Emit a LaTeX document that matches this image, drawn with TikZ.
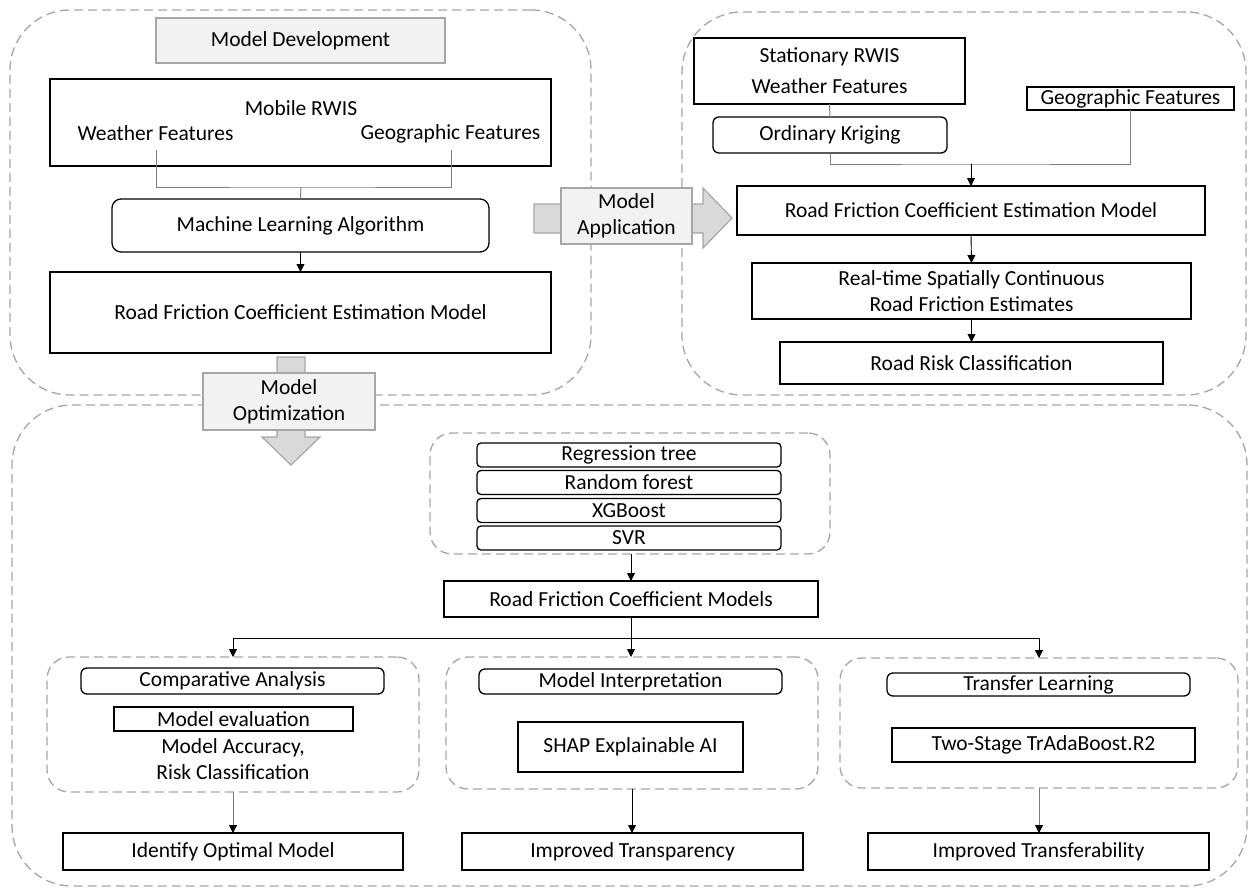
\documentclass[tikz,border=0pt]{standalone}
\usepackage{fontspec}
\setmainfont{Carlito}
\usetikzlibrary{arrows.meta}
\definecolor{dashgray}{HTML}{A6A6A6}
\definecolor{linkgray}{HTML}{7F7F7F}
\definecolor{labelfill}{HTML}{F2F2F2}
\definecolor{arrowfill}{HTML}{D9D9D9}
\newcommand\diafont{\fontsize{21.5pt}{26pt}\selectfont}

\begin{document}
\begin{tikzpicture}[x=1pt,y=-1pt,
  every node/.style={font=\diafont, inner sep=0pt, outer sep=0pt},
  box/.style={draw=black, line width=1.3pt, fill=white, align=center},
  rbox/.style={box, rounded corners=6pt},
  zone/.style={draw=dashgray, line width=1.3pt, dash pattern=on 9pt off 5pt, rounded corners=#1},
  zone/.default=60pt,
  lbl/.style={draw=dashgray, line width=1.2pt, fill=labelfill, align=center},
  blockarrow/.style={draw=dashgray, line width=1.2pt, fill=arrowfill},
  link/.style={draw=linkgray, line width=1pt},
  flow/.style={draw=black, line width=0.9pt, -{Triangle[length=8pt,width=8pt]}},
  gflow/.style={draw=linkgray, line width=1pt, -{Triangle[length=8pt,width=8pt,color=black]}},
]
\useasboundingbox (0,0) rectangle (1249,888);

% ---------- dashed zones ----------
\node[zone, minimum width=581pt, minimum height=385pt] (devzone) at (300.5,202.5) {};
\node[zone, minimum width=564pt, minimum height=383pt] (appzone) at (964,203.5) {};
\node[zone, minimum width=1235pt, minimum height=481pt] (optzone) at (629.5,645.5) {};

% ---------- model development ----------
\node[lbl, minimum width=289pt, minimum height=45pt] (mdev) at (300.5,40.5) {Model Development};
\node[box, minimum width=501pt, minimum height=87pt] (mrwis) at (300.5,122.5) {};
\node (mrwisT) at (301,108) {Mobile RWIS};
\node (wfeat) at (155.5,133) {Weather Features};
\node (gfeat) at (450.5,134) {Geographic Features};
\node[rbox, rounded corners=9pt, minimum width=377pt, minimum height=53pt] (mla) at (300.5,225.5) {Machine Learning Algorithm};
\node[box, minimum width=501pt, minimum height=81pt] (rfcemA) at (300.5,312.5) {Road Friction Coefficient Estimation Model};

\coordinate (wfEnd) at (156.5,150);
\coordinate (gfEnd) at (451,150);
\coordinate (devJoin) at (301,187);
\draw[link] (wfEnd) |- (devJoin) -| (gfEnd);
\draw[link] (devJoin) -- (mla.north);
\draw[flow] (mla.south) -- (rfcemA.north);

% ---------- model application ----------
\node[box, minimum width=271pt, minimum height=66pt] (srwis) at (829.5,71) {Stationary RWIS\\[5pt]Weather Features};
\node[box, minimum width=207pt, minimum height=23pt] (gfeatB) at (1130.5,98.5) {Geographic Features};
\node[rbox, minimum width=234pt, minimum height=36pt] (okrig) at (830,135) {Ordinary Kriging};
\node[box, minimum width=468pt, minimum height=49pt] (rfcemB) at (971,210.5) {Road Friction Coefficient Estimation Model};
\node[box, minimum width=439pt, minimum height=56pt] (rtscr) at (971.5,291) {Real-time Spatially Continuous\\Road Friction Estimates};
\node[box, minimum width=383pt, minimum height=42pt] (rrisk) at (971.5,363) {Road Risk Classification};

\coordinate (appJoin) at (971,164);
\draw[link] (srwis.south) -- (okrig.north);
\draw[link] (okrig.south) |- (appJoin) -| (gfeatB.south);
\draw[flow] (appJoin) -- (rfcemB.north);
\draw[flow] (rfcemB.south) -- (rtscr.north);
\draw[flow] (rtscr.south) -- (rrisk.north);

% ---------- block arrows with labels ----------
\draw[blockarrow] (534,204) -- (703,204) -- (703,188) -- (732,218) -- (703,248) -- (703,233) -- (534,233) -- cycle;
\node[lbl, minimum width=131pt, minimum height=56pt] (mapp) at (626.5,216) {Model\\Application};
\draw[blockarrow] (277,357) -- (305,357) -- (305,437) -- (320,437) -- (291,465) -- (262,437) -- (277,437) -- cycle;
\node[lbl, minimum width=172pt, minimum height=57pt] (mopt) at (289,401.5) {Model\\Optimization};

% ---------- model optimization ----------
\node[zone=22pt, minimum width=400pt, minimum height=121pt] (algzone) at (630,493.5) {};
\node[rbox, rounded corners=4pt, minimum width=304pt, minimum height=24pt] (rtree) at (629,455) {Regression tree};
\node[rbox, rounded corners=4pt, minimum width=304pt, minimum height=24pt] (rforest) at (629,482.5) {Random forest};
\node[rbox, rounded corners=4pt, minimum width=304pt, minimum height=24pt] (xgb) at (629,510.5) {XGBoost};
\node[rbox, rounded corners=4pt, minimum width=304pt, minimum height=24pt] (svr) at (629,538) {SVR};
\node[box, minimum width=374pt, minimum height=36pt] (rfcm) at (631,599) {Road Friction Coefficient Models};

\node[zone=22pt, minimum width=372pt, minimum height=135pt] (cmpzone) at (233,724.5) {};
\node[zone=22pt, minimum width=372pt, minimum height=132pt] (intzone) at (632,723) {};
\node[zone=22pt, minimum width=398pt, minimum height=130pt] (trfzone) at (1039,723) {};

\node[rbox, minimum width=303pt, minimum height=26pt] (cmp) at (232.5,681) {Comparative Analysis};
\node[box, minimum width=239pt, minimum height=24pt] (meval) at (233.5,719) {Model evaluation};
\node[align=center] (macc) at (233,759.5) {Model Accuracy,\\Risk Classification};
\node[rbox, minimum width=303pt, minimum height=25pt] (minterp) at (630.5,681.5) {Model Interpretation};
\node[box, minimum width=225pt, minimum height=50pt] (shap) at (630.5,747) {SHAP Explainable AI};
\node[rbox, minimum width=303pt, minimum height=23pt] (tlearn) at (1038.5,684.5) {Transfer Learning};
\node[box, minimum width=303pt, minimum height=34pt] (trada) at (1043.5,745) {Two-Stage TrAdaBoost.R2};

\node[box, minimum width=340pt, minimum height=37pt] (optimal) at (233,851.5) {Identify Optimal Model};
\node[box, minimum width=341pt, minimum height=37pt] (transp) at (632.5,851.5) {Improved Transparency};
\node[box, minimum width=341pt, minimum height=37pt] (transf) at (1038.5,851.5) {Improved Transferability};

\coordinate (splitL) at (233,638);
\coordinate (splitR) at (1039,638);
\draw[flow] (algzone.south -| rfcm.north) -- (rfcm.north);
\draw[line width=0.9pt] (splitL) -- (splitR);
\draw[flow] (rfcm.south) -- (intzone.north -| rfcm.south);
\draw[flow] (splitL) -- (cmpzone.north);
\draw[flow] (splitR) -- (trfzone.north);
\draw[gflow] (cmpzone.south) -- (optimal.north);
\draw[flow] (intzone.south) -- (transp.north -| intzone.south);
\draw[gflow] (trfzone.south) -- (transf.north -| trfzone.south);
\end{tikzpicture}
\end{document}
